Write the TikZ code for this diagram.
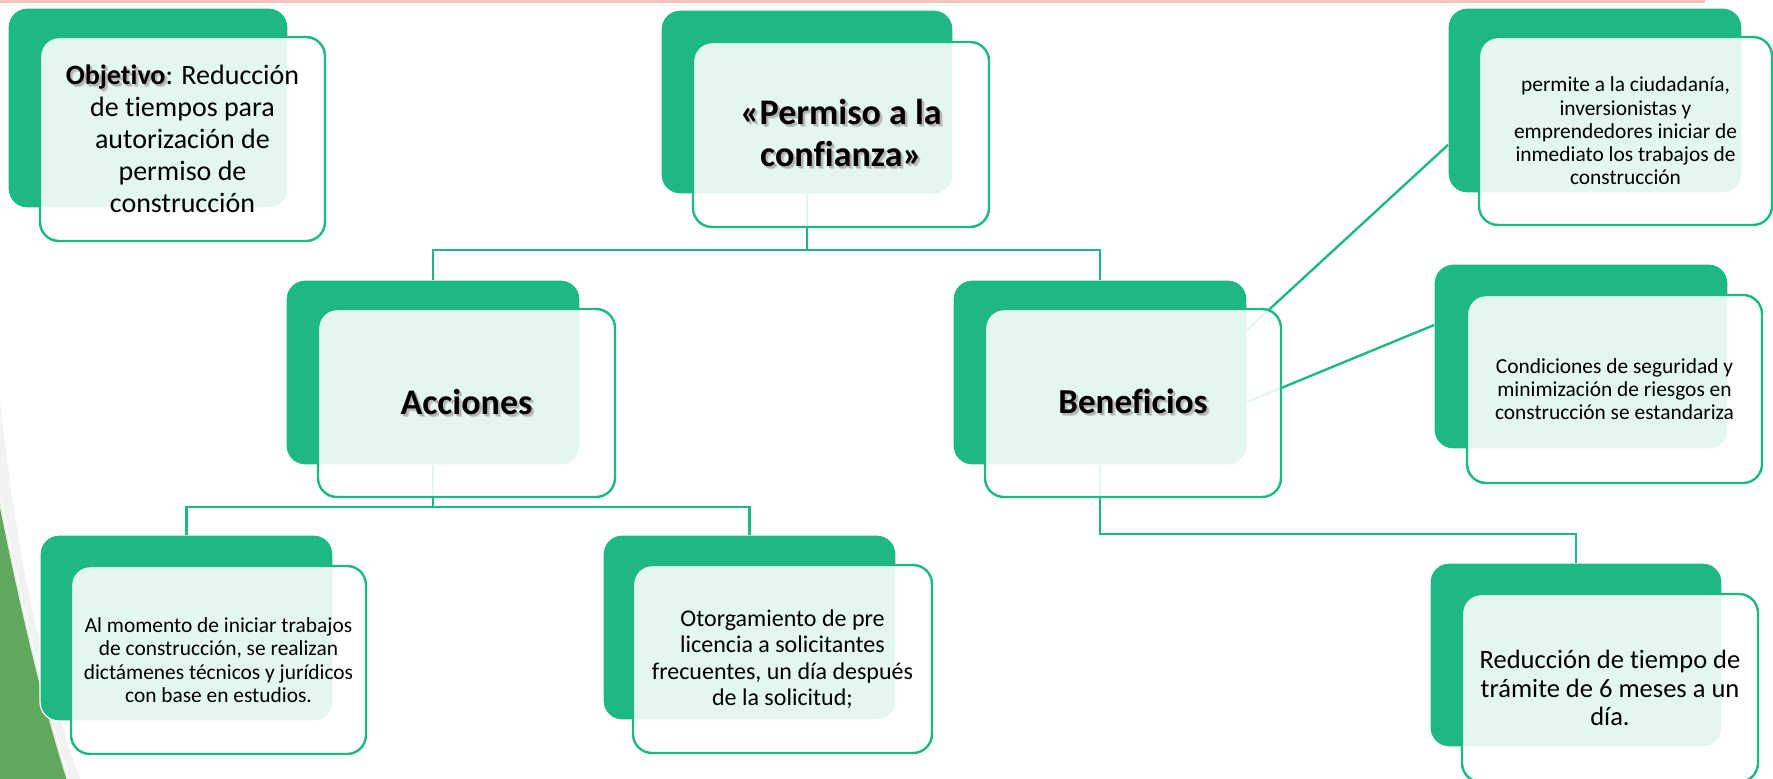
\documentclass[tikz,border=0pt]{standalone}
\usepackage{fontspec}
\setmainfont{Carlito}[Ligatures=NoCommon]
\usetikzlibrary{calc}
\definecolor{gr}{RGB}{29,184,132}
\definecolor{sw}{RGB}{98,168,92}
\definecolor{pk}{RGB}{248,190,190}
\newcommand\shb[1]{\leavevmode\rlap{\kern3pt\raisebox{-3pt}{\color{black!18}\bfseries #1}}\rlap{\kern2pt\raisebox{-2pt}{\color{black!30}\bfseries #1}}{\bfseries #1}}
\begin{document}
\begin{tikzpicture}[x=1pt,y=-1pt,
  back/.style={fill=gr, draw=white, line width=1.2pt, rounded corners=19pt, inner sep=0pt, outer sep=0pt, anchor=north west},
  front/.style={fill=white, fill opacity=0.88, text opacity=1, draw=gr, line width=2.4pt, rounded corners=19pt, inner sep=0pt, outer sep=0pt, anchor=north west, align=center, text=black},
  conn/.style={draw=gr, line width=2.4pt}]
\useasboundingbox (0,0) rectangle (1773,779);
% background decoration
\fill[pk] (0,0) rectangle (1705,2.5);
\fill[black!5] (0,400) .. controls (8,470) and (20,570) .. (45,660) .. controls (55,700) and (65,740) .. (80,779) -- (0,779) -- cycle;
\fill[sw] (0,500) .. controls (18,590) and (40,690) .. (68,779) -- (0,779) -- cycle;
\draw[white, line width=3pt, opacity=0.8] (0,500) .. controls (18,590) and (40,690) .. (68,779);
% back boxes
\node[back, minimum width=280pt, minimum height=200pt] (obB) at (8,8) {};
\node[back, minimum width=292pt, minimum height=184pt] (pmB) at (661,10) {};
\node[back, minimum width=294pt, minimum height=185pt] (acB) at (286,280) {};
\node[back, minimum width=294pt, minimum height=185pt] (bnB) at (953,280) {};
\node[back, minimum width=293pt, minimum height=186pt] (alB) at (40,535) {};
\node[back, minimum width=293pt, minimum height=185pt] (otB) at (603,535) {};
\node[back, minimum width=294pt, minimum height=185pt] (peB) at (1448,8) {};
\node[back, minimum width=294pt, minimum height=185pt] (coB) at (1434,264) {};
\node[back, minimum width=292pt, minimum height=184pt] (reB) at (1430,563) {};
% connectors
\draw[conn] (pmB.south) -- ($(pmB.south)+(0,56)$) -| (acB.north);
\draw[conn] ($(pmB.south)+(0,56)$) -| (bnB.north);
\draw[conn] (acB.south) -- ($(acB.south)+(0,42)$) -| (alB.north);
\draw[conn] ($(acB.south)+(0,42)$) -| (otB.north);
\draw[conn] (bnB.south) -- ($(bnB.south)+(0,69)$) -| (reB.north);
\draw[conn] ($(bnB.north east)!0.27!(bnB.south east)$) -- ($(peB.north west)!0.74!(peB.south west)$);
\draw[conn] ($(bnB.north east)!0.66!(bnB.south east)$) -- ($(coB.north west)!0.33!(coB.south west)$);
% front boxes with text
\node[front, minimum width=285pt, minimum height=204pt, font=\fontsize{28}{32}\selectfont] (obF) at (40,37)
  {\shb{Objetivo}: Reducción\\de tiempos para\\autorización de\\permiso de\\construcción};
\node[front, minimum width=296pt, minimum height=185pt, font=\fontsize{36}{42}\selectfont] (pmF) at (693,42)
  {\shb{«Permiso a la}\\\shb{confianza»}};
\node[front, minimum width=297pt, minimum height=188pt, font=\fontsize{36}{42}\selectfont] (acF) at (318,309)
  {\shb{Acciones}};
\node[front, minimum width=296pt, minimum height=188pt, font=\fontsize{35}{42}\selectfont] (bnF) at (985,309)
  {\shb{Beneficios}};
\node[front, minimum width=295pt, minimum height=188pt, font=\fontsize{21.4}{23.4}\selectfont] (alF) at (71,566)
  {Al momento de iniciar trabajos\\de construcción, se realizan\\dictámenes técnicos y jurídicos\\con base en estudios.};
\node[front, minimum width=299pt, minimum height=188pt, font=\fontsize{24}{26.4}\selectfont] (otF) at (633,565)
  {Otorgamiento de pre\\licencia a solicitantes\\frecuentes, un día después\\de la solicitud;};
\node[front, minimum width=293pt, minimum height=188pt, font=\fontsize{21.4}{23.3}\selectfont] (peF) at (1479,37)
  {permite a la ciudadanía,\\inversionistas y\\emprendedores iniciar de\\inmediato los trabajos de\\construcción};
\node[front, minimum width=295pt, minimum height=188pt, font=\fontsize{21.4}{23.3}\selectfont] (coF) at (1467,295)
  {Condiciones de seguridad y\\minimización de riesgos en\\construcción se estandariza};
\node[front, minimum width=296pt, minimum height=188pt, font=\fontsize{26.5}{28.6}\selectfont] (reF) at (1462,594)
  {Reducción de tiempo de\\trámite de 6 meses a un\\día.};
\end{tikzpicture}
\end{document}
